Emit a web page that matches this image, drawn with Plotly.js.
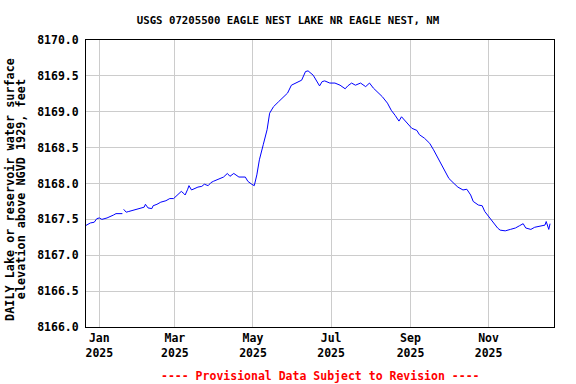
<!DOCTYPE html>
<html>
<head>
<meta charset="utf-8">
<script src="https://cdn.plot.ly/plotly-3.0.1.min.js"></script>
<style>
html,body{margin:0;padding:0;background:#fff;}
#chart{width:576px;height:384px;}
</style>
</head>
<body>
<div id="chart"></div>
<script>
const dates = [
"2024-12-21","2024-12-25","2024-12-28","2024-12-30","2025-01-01","2025-01-03","2025-01-07","2025-01-10","2025-01-12","2025-01-14","2025-01-19","2025-01-19 12:00","2025-01-20","2025-01-22","2025-01-24","2025-01-28","2025-02-01","2025-02-05","2025-02-06","2025-02-08","2025-02-11","2025-02-12","2025-02-15","2025-02-18","2025-02-22","2025-02-25","2025-02-28","2025-03-04","2025-03-06","2025-03-08","2025-03-09","2025-03-11","2025-03-12","2025-03-14","2025-03-16","2025-03-19","2025-03-22","2025-03-24","2025-03-27","2025-03-29","2025-03-31","2025-04-04","2025-04-08","2025-04-11","2025-04-13","2025-04-16","2025-04-20","2025-04-25","2025-04-27","2025-04-30","2025-05-02","2025-05-04","2025-05-06","2025-05-09","2025-05-12","2025-05-14","2025-05-17","2025-05-21","2025-05-25","2025-05-28","2025-05-31","2025-06-04","2025-06-08","2025-06-11","2025-06-13","2025-06-17","2025-06-20","2025-06-22","2025-06-24","2025-06-26","2025-06-30","2025-07-04","2025-07-08","2025-07-12","2025-07-14","2025-07-17","2025-07-20","2025-07-24","2025-07-28","2025-07-31","2025-08-03","2025-08-07","2025-08-10","2025-08-14","2025-08-17","2025-08-20","2025-08-23","2025-08-25","2025-08-28","2025-08-30","2025-09-02","2025-09-06","2025-09-08","2025-09-12","2025-09-16","2025-09-19","2025-09-23","2025-09-27","2025-10-01","2025-10-05","2025-10-08","2025-10-12","2025-10-15","2025-10-18","2025-10-20","2025-10-24","2025-10-27","2025-10-29","2025-11-01","2025-11-02","2025-11-05","2025-11-08","2025-11-10","2025-11-14","2025-11-18","2025-11-22","2025-11-25","2025-11-28","2025-11-30","2025-12-02","2025-12-04","2025-12-07","2025-12-11","2025-12-15","2025-12-16","2025-12-18","2025-12-19"
];
const elevation = [
8167.41,8167.45,8167.46,8167.51,8167.52,8167.50,8167.52,8167.54,8167.56,8167.58,8167.58,null,8167.64,8167.60,8167.61,8167.63,8167.65,8167.67,8167.71,8167.66,8167.65,8167.69,8167.71,8167.74,8167.76,8167.79,8167.79,8167.85,8167.89,8167.86,8167.84,8167.92,8167.97,8167.91,8167.93,8167.95,8167.96,8167.99,8167.97,8168.01,8168.03,8168.06,8168.09,8168.14,8168.10,8168.14,8168.09,8168.09,8168.03,8167.99,8167.97,8168.12,8168.33,8168.54,8168.75,8168.98,8169.07,8169.14,8169.21,8169.26,8169.37,8169.40,8169.44,8169.56,8169.57,8169.51,8169.42,8169.36,8169.42,8169.43,8169.40,8169.40,8169.37,8169.32,8169.36,8169.40,8169.37,8169.40,8169.35,8169.40,8169.33,8169.26,8169.21,8169.12,8169.02,8168.95,8168.87,8168.93,8168.87,8168.83,8168.77,8168.74,8168.68,8168.63,8168.56,8168.47,8168.33,8168.19,8168.07,8168.00,8167.95,8167.91,8167.92,8167.84,8167.75,8167.70,8167.69,8167.61,8167.54,8167.51,8167.44,8167.38,8167.35,8167.34,8167.36,8167.38,8167.41,8167.44,8167.38,8167.37,8167.36,8167.39,8167.41,8167.42,8167.47,8167.36,8167.44
];
const yTicks = [8166.0,8166.5,8167.0,8167.5,8168.0,8168.5,8169.0,8169.5,8170.0];
const xRange = ["2024-12-21 14:00","2025-12-22 02:00"];
const titleText = "USGS 07205500 EAGLE NEST LAKE NR EAGLE NEST, NM";
const yTitle1 = "DAILY Lake or reservoir water surface";
const yTitle2 = "elevation above NGVD 1929, feet";
const note = "---- Provisional Data Subject to Revision ----";

const mono = "DejaVu Sans Mono, monospace";
const trace = {
  x: dates, y: elevation, type: "scatter", mode: "lines",
  line: {color: "#0000ff", width: 1}, connectgaps: false, hoverinfo: "skip"
};
const layout = {
  width: 576, height: 384,
  margin: {l: 86, r: 22, t: 40, b: 57},
  paper_bgcolor: "#fff", plot_bgcolor: "#fff",
  showlegend: false,
  font: {family: mono, size: 11.5, color: "#000", weight: 700},
  title: {text: titleText, x: 0.5, xanchor: "center", y: 0.948, yanchor: "middle",
          font: {family: mono, size: 10.7, color: "#000", weight: 700}},
  xaxis: {
    type: "date", range: xRange, tick0: "2025-01-01", dtick: "M2",
    tickformat: "%b<br>%Y", showgrid: true, gridcolor: "#cccccc", gridwidth: 1,
    showline: true, linecolor: "#000", linewidth: 1, mirror: true,
    ticks: "", zeroline: false,
    tickfont: {family: mono, size: 11.5, color: "#000", weight: 700}
  },
  yaxis: {
    range: [8166, 8170], tickmode: "array", tickvals: yTicks,
    ticktext: yTicks.map(v => v.toFixed(1)),
    showgrid: true, gridcolor: "#cccccc", gridwidth: 1,
    showline: true, linecolor: "#000", linewidth: 1, mirror: true,
    ticks: "", zeroline: false, ticklabelstandoff: 4,
    tickfont: {family: mono, size: 11.5, color: "#000", weight: 700}
  },
  annotations: [
    {text: yTitle1, textangle: -90, xref: "paper", yref: "paper",
     x: -0.161, y: 0.48, xanchor: "center", yanchor: "middle", showarrow: false,
     font: {family: mono, size: 11.8, color: "#000", weight: 700}},
    {text: yTitle2, textangle: -90, xref: "paper", yref: "paper",
     x: -0.139, y: 0.48, xanchor: "center", yanchor: "middle", showarrow: false,
     font: {family: mono, size: 11.8, color: "#000", weight: 700}},
    {text: note, xref: "paper", yref: "paper", x: 0.5, y: -0.17,
     xanchor: "center", yanchor: "middle", showarrow: false,
     font: {family: mono, size: 11.5, color: "#ff0000", weight: 700}}
  ]
};
Plotly.newPlot("chart", [trace], layout, {staticPlot: true, displayModeBar: false});
</script>
</body>
</html>
